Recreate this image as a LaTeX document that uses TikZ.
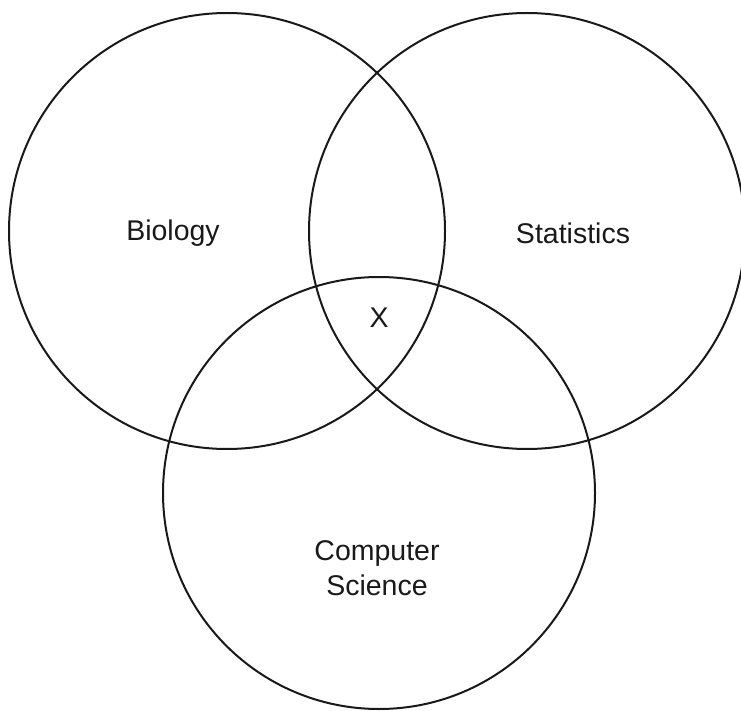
\documentclass[tikz,border=0pt]{standalone}
\usepackage{fontspec}
\setmainfont{Liberation Sans}
\usetikzlibrary{positioning}

\begin{document}
\begin{tikzpicture}[x=1pt, y=-1pt,
ring/.style={draw, circle, line width=2pt, inner sep=0pt, color=black!90},
lbl/.style={font=\fontsize{28.5}{35}\selectfont, text=black!90, align=center, inner sep=0pt},
]
\useasboundingbox (0,0) rectangle (741,711);
\node[ring, minimum size=436pt] (bio) at (227,231) {};
\node[ring, minimum size=436pt] (stat) at (527,231) {};
\node[ring, minimum size=432pt] (cs) at (379,493) {};
\node[lbl] (biolbl) at (173,233) {Biology};
\node[lbl] (statlbl) at (573,233) {Statistics};
\node[lbl] (xlbl) at (379,318) {X};
\node[lbl] (cslbl) at (377,568) {Computer\\Science};
\end{tikzpicture}
\end{document}
